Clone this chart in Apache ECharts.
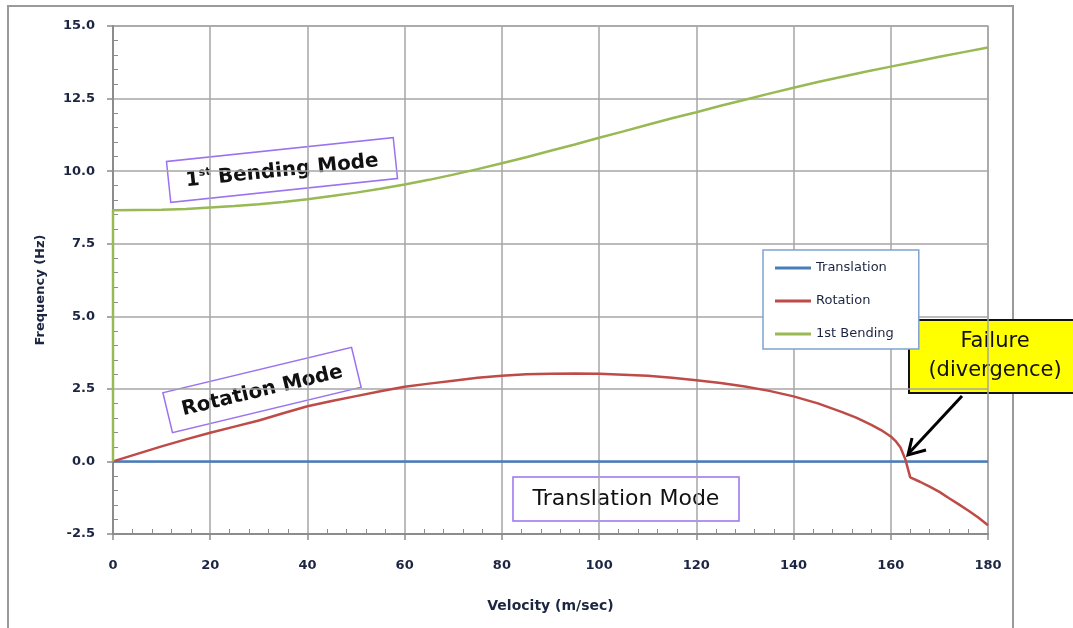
<!DOCTYPE html>
<html>
<head>
<meta charset="utf-8">
<title>Flutter frequencies vs velocity</title>
<script src="https://cdn.jsdelivr.net/npm/echarts@6/dist/echarts.min.js"></script>
<style>
  html, body { margin: 0; padding: 0; background: #ffffff; }
  #chart { width: 1073px; height: 628px; }
</style>
</head>
<body>
<div id="chart"></div>
<script>
// Axis ticks
const yTicks = [-2.5, 0.0, 2.5, 5.0, 7.5, 10.0, 12.5, 15.0];
const xTicks = [0, 20, 40, 60, 80, 100, 120, 140, 160, 180];

// Translation mode (m/sec, Hz)
const translationVelocity = [0, 180];
const translationFreq = [0, 0];

// Rotation mode
const rotationVelocity = [0, 5, 10, 15, 20, 25, 30, 35, 40, 45, 50, 55, 60, 65, 70, 75, 80, 85, 90, 95,
  100, 105, 110, 115, 120, 125, 130, 135, 140, 145, 150, 153, 156, 158, 160, 161, 162, 163, 164,
  166, 168, 170, 172, 174, 176, 178, 180];
const rotationFreq = [0, 0.26, 0.52, 0.76, 0.99, 1.2, 1.41, 1.66, 1.9, 2.08, 2.25, 2.42, 2.57, 2.68, 2.78, 2.88, 2.95, 3.0, 3.02, 3.03,
  3.02, 2.99, 2.95, 2.88, 2.8, 2.7, 2.58, 2.43, 2.24, 2.0, 1.7, 1.5, 1.26, 1.08, 0.86, 0.7, 0.48, 0.07, -0.55,
  -0.7, -0.87, -1.05, -1.27, -1.48, -1.7, -1.93, -2.2];

// 1st bending mode
const bendingVelocity = [0, 0, 5, 10, 15, 20, 25, 30, 35, 40, 45, 50, 55, 60, 65, 70, 75, 80, 85, 90, 95,
  100, 105, 110, 115, 120, 125, 130, 135, 140, 145, 150, 155, 160, 165, 170, 175, 180];
const bendingFreq = [0, 8.65, 8.66, 8.67, 8.7, 8.75, 8.8, 8.86, 8.94, 9.03, 9.14, 9.26, 9.39, 9.54, 9.7, 9.88, 10.07, 10.27, 10.48, 10.7, 10.92,
  11.15, 11.37, 11.6, 11.82, 12.03, 12.25, 12.46, 12.67, 12.87, 13.07, 13.25, 13.43, 13.6, 13.77, 13.94, 14.1, 14.26];

const seriesNames = ['Translation', 'Rotation', '1st Bending'];
const seriesColors = ['#4A7EBB', '#BE4B48', '#98B954'];

function pairs(xs, ys) { return xs.map((x, i) => [x, ys[i]]); }

const tickFont = { fontFamily: 'DejaVu Sans', fontWeight: 'bold', fontSize: 13, color: '#1c2541' };
const gridGray = '#a6a6a6';
const boxPurple = '#9B72F0';

// Rotated annotation box centred at (cx, cy)
function labelBox(cx, cy, w, h, deg, textStyle) {
  return {
    type: 'group', x: cx, y: cy, rotation: deg * Math.PI / 180, z: 50,
    children: [
      { type: 'rect', shape: { x: -w / 2, y: -h / 2, width: w, height: h },
        style: { fill: '#ffffff', stroke: boxPurple, lineWidth: 1.5 } },
      { type: 'text', x: 0, y: 1, style: Object.assign({ align: 'center', verticalAlign: 'middle', fill: '#111' }, textStyle) }
    ]
  };
}

const chart = echarts.init(document.getElementById('chart'), null, { renderer: 'canvas' });

chart.setOption({
  animation: false,
  backgroundColor: '#ffffff',
  grid: { left: 113, top: 26, right: 85, bottom: 94, show: true, borderColor: gridGray, borderWidth: 1.5 },
  xAxis: {
    type: 'value', min: xTicks[0], max: xTicks[xTicks.length - 1], interval: 20,
    name: 'Velocity (m/sec)', nameLocation: 'middle', nameGap: 65,
    nameTextStyle: { fontFamily: 'DejaVu Sans', fontSize: 14, fontWeight: 'bold', color: '#1c2541' },
    axisLine: { onZero: false, lineStyle: { color: '#8c8c8c', width: 2 } },
    axisTick: { show: true, length: 6, lineStyle: { color: '#8c8c8c', width: 1.5 } },
    minorTick: { show: true, splitNumber: 5, length: -5, lineStyle: { color: '#8c8c8c', width: 1 } },
    splitLine: { show: true, lineStyle: { color: gridGray, width: 1.5 } },
    axisLabel: Object.assign({ margin: 25, formatter: v => String(v) }, tickFont)
  },
  yAxis: {
    type: 'value', min: yTicks[0], max: yTicks[yTicks.length - 1], interval: 2.5,
    name: 'Frequency (Hz)', nameLocation: 'middle', nameGap: 66,
    nameTextStyle: { fontFamily: 'DejaVu Sans', fontSize: 13, fontWeight: 'bold', color: '#1c2541', padding: [0, 20, 0, 0] },
    axisLine: { show: true, onZero: false, lineStyle: { color: '#8c8c8c', width: 2 } },
    axisTick: { show: true, length: 6, lineStyle: { color: '#8c8c8c', width: 1.5 } },
    minorTick: { show: true, splitNumber: 5, length: -5, lineStyle: { color: '#8c8c8c', width: 1 } },
    splitLine: { show: true, lineStyle: { color: gridGray, width: 1.5 } },
    axisLabel: Object.assign({ margin: 18, formatter: v => v.toFixed(1) }, tickFont)
  },
  legend: {
    orient: 'vertical', left: 763, top: 250,
    data: seriesNames.map(n => ({ name: n, icon: 'rect' })),
    backgroundColor: '#ffffff', borderColor: '#7FA3D1', borderWidth: 1.5,
    padding: [10, 25, 7, 12], itemGap: 17, itemWidth: 36, itemHeight: 3,
    textStyle: { fontFamily: 'DejaVu Sans', fontSize: 13, color: '#1c2541', lineHeight: 16 }
  },
  series: [
    { name: seriesNames[0], type: 'line', data: pairs(translationVelocity, translationFreq),
      symbol: 'none', color: seriesColors[0], lineStyle: { width: 2.5, color: seriesColors[0] }, z: 3 },
    { name: seriesNames[1], type: 'line', data: pairs(rotationVelocity, rotationFreq),
      symbol: 'none', color: seriesColors[1], lineStyle: { width: 2.5, color: seriesColors[1] }, z: 4 },
    { name: seriesNames[2], type: 'line', data: pairs(bendingVelocity, bendingFreq),
      symbol: 'none', color: seriesColors[2], lineStyle: { width: 2.5, color: seriesColors[2] }, z: 4 }
  ],
  graphic: [
    // outer frame
    { type: 'rect', z: -10, silent: true, shape: { x: 8, y: 6, width: 1005, height: 700 },
      style: { fill: 'none', stroke: '#9a9a9a', lineWidth: 2 } },
    labelBox(282, 170, 228, 41, 6, {
      text: '{n|1}{s|st}{n| Bending Mode}',
      rich: {
        n: { fontFamily: 'DejaVu Sans', fontWeight: 'bold', fontSize: 20, fill: '#111', lineHeight: 24 },
        s: { fontFamily: 'DejaVu Sans', fontWeight: 'bold', fontSize: 11, fill: '#111', lineHeight: 24, verticalAlign: 'top', padding: [0, 0, 10, 0] }
      }
    }),
    labelBox(262, 390, 194, 41, 13.5, {
      text: 'Rotation Mode', fontFamily: 'DejaVu Sans', fontWeight: 'bold', fontSize: 20
    }),
    { type: 'group', x: 626, y: 499, z: 50, children: [
      { type: 'rect', shape: { x: -113, y: -22, width: 226, height: 44 },
        style: { fill: '#ffffff', stroke: boxPurple, lineWidth: 1.5 } },
      { type: 'text', x: 0, y: 0, style: { text: 'Translation Mode', align: 'center', verticalAlign: 'middle',
        fontFamily: 'DejaVu Sans', fontSize: 22, fill: '#111' } }
    ] },
    // failure callout
    { type: 'group', z: 60, children: [
      { type: 'rect', shape: { x: 909, y: 320, width: 180, height: 73 },
        style: { fill: '#FFFF00', stroke: '#111', lineWidth: 2 } },
      { type: 'text', x: 995, y: 342, style: { text: 'Failure', align: 'center', verticalAlign: 'middle',
        fontFamily: 'DejaVu Sans', fontSize: 21, fill: '#111' } },
      { type: 'text', x: 995, y: 371, style: { text: '(divergence)', align: 'center', verticalAlign: 'middle',
        fontFamily: 'DejaVu Sans', fontSize: 21, fill: '#111' } },
      { type: 'line', shape: { x1: 962, y1: 396, x2: 909, y2: 453 }, style: { stroke: '#000', lineWidth: 3 } },
      { type: 'polyline', shape: { points: [[926, 450], [908, 455], [912, 438]] },
        style: { stroke: '#000', lineWidth: 3, fill: 'none', lineJoin: 'miter' } }
    ] }
  ]
});
</script>
</body>
</html>
